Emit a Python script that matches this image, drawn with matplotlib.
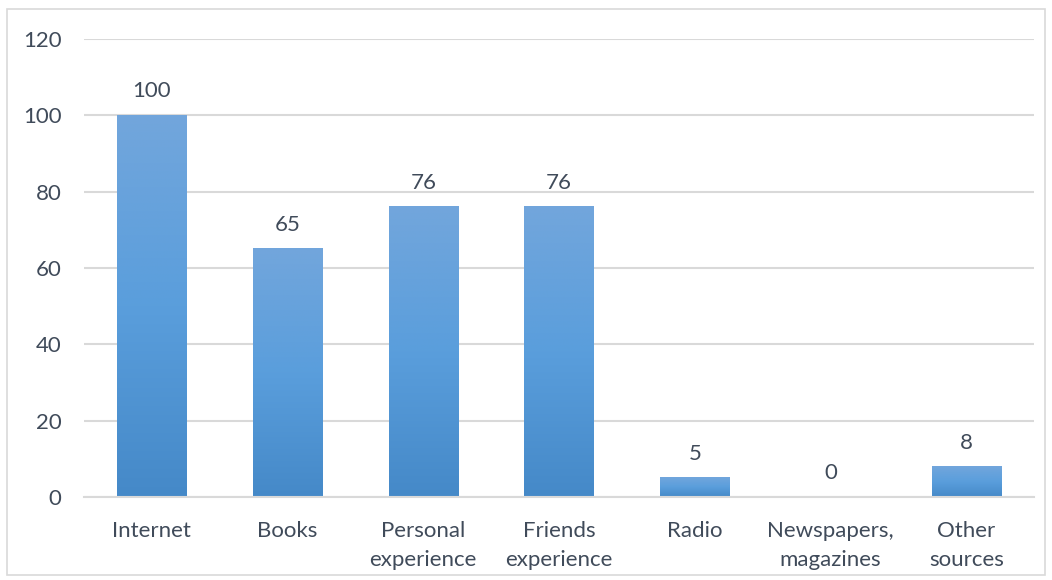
import matplotlib.pyplot as plt
import numpy as np
from matplotlib.colors import LinearSegmentedColormap
from matplotlib.patches import Rectangle

categories = ['Internet', 'Books', 'Personal\nexperience', 'Friends\nexperience',
              'Radio', 'Newspapers,\nmagazines', 'Other\nsources']
values = [100, 65, 76, 76, 5, 0, 8]
yticks = [0, 20, 40, 60, 80, 100, 120]

text_color = '#404B5A'
grid_color = '#D9D9D9'
plt.rcParams['font.family'] = ['Lato', 'DejaVu Sans']

fig = plt.figure(figsize=(10.52, 5.80), dpi=100)
ax = fig.add_axes([0.0798, 0.143, 0.9032, 0.7898])

x = np.arange(len(categories))
width = 0.51
bars = ax.bar(x, values, width=width, color='none', zorder=2)

# vertical gradient on each bar, darker at the base
cmap = LinearSegmentedColormap.from_list('bar', ['#4589C8', '#5A9EDC', '#72A6DC'])
grad = np.linspace(0, 1, 256).reshape(-1, 1)
for b in bars:
    h = b.get_height()
    if h <= 0:
        continue
    x0 = b.get_x()
    ax.imshow(grad, extent=(x0, x0 + b.get_width(), 0, h), origin='lower',
              cmap=cmap, aspect='auto', zorder=2, interpolation='bicubic')

for xi, v in zip(x, values):
    ax.annotate(str(v), (xi, v), xytext=(0, 10), textcoords='offset points',
                ha='center', va='bottom', fontsize=16, color=text_color)

ax.set_xlim(-0.5, len(categories) - 0.5)
ax.set_ylim(0, 120)
ax.set_yticks(yticks)
ax.set_xticks(x)
ax.set_xticklabels(categories, linespacing=1.6)
ax.tick_params(axis='both', length=0, labelsize=16, labelcolor=text_color)
ax.tick_params(axis='x', pad=17)
ax.tick_params(axis='y', pad=16)
ax.grid(axis='y', color=grid_color, linewidth=1.5, zorder=0)
ax.set_axisbelow(True)
for s in ['top', 'right', 'left']:
    ax.spines[s].set_visible(False)
ax.spines['bottom'].set_color(grid_color)
ax.spines['bottom'].set_linewidth(1.5)

fig.patches.append(Rectangle((0.007, 0.008), 0.986, 0.977, transform=fig.transFigure,
                             fill=False, edgecolor='#D9D9D9', linewidth=1.2))

fig.savefig('out.png', dpi=100)
